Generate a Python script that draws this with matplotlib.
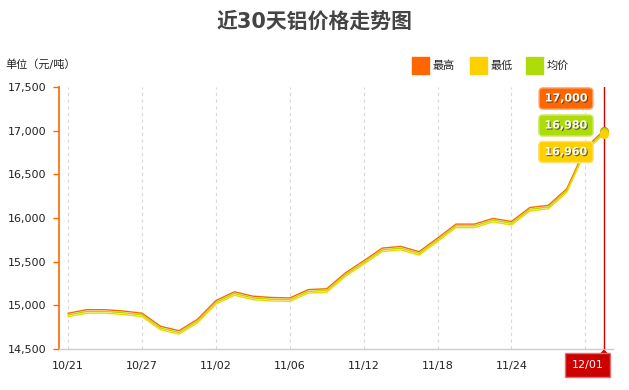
import matplotlib
matplotlib.use("Agg")
import matplotlib.pyplot as plt
import matplotlib.patheffects as pe
from matplotlib.patches import Polygon

plt.rcParams['font.family'] = ['DejaVu Sans', 'Noto Sans CJK SC']

dates = ["10/21", "10/22", "10/23", "10/24", "10/27", "10/28", "10/29", "10/30",
         "11/02", "11/03", "11/04", "11/05", "11/06", "11/09", "11/10", "11/11",
         "11/12", "11/13", "11/16", "11/17", "11/18", "11/19", "11/20", "11/23",
         "11/24", "11/25", "11/26", "11/27", "11/30", "12/01"]
high = [14910, 14950, 14950, 14935, 14910, 14760, 14710, 14840, 15055, 15155,
        15105, 15090, 15085, 15180, 15190, 15370, 15510, 15655, 15675, 15615,
        15770, 15930, 15930, 15995, 15960, 16120, 16145, 16335, 16800, 17000]
avg = [14890, 14930, 14930, 14915, 14890, 14740, 14690, 14820, 15035, 15135,
       15085, 15070, 15065, 15160, 15170, 15350, 15490, 15635, 15655, 15595,
       15750, 15910, 15910, 15975, 15940, 16100, 16125, 16315, 16780, 16980]
low = [14870, 14910, 14910, 14895, 14870, 14720, 14670, 14800, 15015, 15115,
       15065, 15050, 15045, 15140, 15150, 15330, 15470, 15615, 15635, 15575,
       15730, 15890, 15890, 15955, 15920, 16080, 16105, 16295, 16760, 16960]
yticks = [14500, 15000, 15500, 16000, 16500, 17000, 17500]
series_names = ["最高", "最低", "均价"]

C_HIGH = "#FF6600"
C_LOW = "#FFD000"
C_AVG = "#AEDC0A"

W, H = 629, 390
fig = plt.figure(figsize=(W / 100, H / 100), dpi=100)
ax = fig.add_axes([59 / W, 1 - 349 / H, (613 - 59) / W, (349 - 87) / H])

x = list(range(len(dates)))
ax.plot(x, high, color=C_HIGH, lw=1.0, zorder=3)
ax.plot(x, avg, color=C_AVG, lw=1.0, zorder=3)
ax.plot(x, low, color=C_LOW, lw=1.0, zorder=3)
last = len(dates) - 1
ax.plot([last], [high[-1]], 'o', color=C_HIGH, ms=5.5, zorder=5)
ax.plot([last], [avg[-1]], 'o', color=C_AVG, ms=5.5, zorder=5)
ax.plot([last], [low[-1]], 'o', color=C_LOW, ms=5.5, zorder=5)

ax.set_xlim(-0.5, len(dates) - 0.5)
ax.set_ylim(14500, 17500)
ax.set_yticks(yticks)
ax.set_yticklabels([f"{v:,}" for v in yticks])

tick_idx = list(range(0, len(dates), 4))
ax.set_xticks(tick_idx)
labels = [dates[i] for i in tick_idx]
labels[-1] = ""
ax.set_xticklabels(labels)

for i in tick_idx:
    ax.axvline(i, color="#d9d9d9", lw=0.8, ls=(0, (3, 3)), zorder=1)

for s in ["top", "right"]:
    ax.spines[s].set_visible(False)
ax.spines["left"].set_color(C_HIGH)
ax.spines["left"].set_linewidth(1.2)
ax.spines["bottom"].set_color("#cccccc")
ax.spines["bottom"].set_linewidth(1.0)

ax.tick_params(axis="y", colors=C_HIGH, length=4.5, width=1, pad=4.5,
               labelsize=8, labelcolor="#222222")
ax.tick_params(axis="x", length=0, pad=8.5, labelsize=8, labelcolor="#222222")

# crosshair
ax.axvline(last, color="#CC0000", lw=1.0, zorder=4)

# title and unit
fig.text(315 / W, 1 - 22 / H, "近30天铝价格走势图", ha="center", va="center",
         fontsize=15, fontweight="bold", color="#444444")
fig.text(5 / W, 1 - 64 / H, "单位（元/吨）", ha="left", va="center",
         fontsize=8, color="#222222")

# legend
leg = [(412, C_HIGH, series_names[0]), (470, C_LOW, series_names[1]),
       (526, C_AVG, series_names[2])]
for px, col, name in leg:
    fig.patches.append(plt.Rectangle((px / W, 1 - 74 / H), 17 / W, 17 / H,
                                     transform=fig.transFigure, color=col))
    fig.text((px + 21) / W, 1 - 65.5 / H, name, ha="left", va="center",
             fontsize=8, color="#222222")

# tooltips
shadow = [pe.SimplePatchShadow(offset=(0.8, -0.8), shadow_rgbFace="#333333", alpha=0.7),
          pe.Normal()]
tips = [(98.5, f"{high[-1]:,}", C_HIGH, "#FFA060"),
        (125.5, f"{avg[-1]:,}", C_AVG, "#CDEB6A"),
        (152, f"{low[-1]:,}", C_LOW, "#FFE370")]
for py, txt, col, edge in tips:
    t = fig.text(566 / W, 1 - py / H, txt, ha="center", va="center",
                 fontsize=8, fontweight="bold", color="white",
                 bbox=dict(boxstyle="round,pad=0.5,rounding_size=0.35",
                           fc=col, ec=edge, lw=1))
    t.set_path_effects(shadow)

# bottom date label
fig.text(587.5 / W, 1 - 365 / H, dates[-1], ha="center", va="center",
         fontsize=8, color="white",
         bbox=dict(boxstyle="square,pad=0.62", fc="#CC0000", ec="#E07070", lw=1))
tri = Polygon([(599.5 / W, 1 - 354 / H), (608.5 / W, 1 - 354 / H),
               (604 / W, 1 - 349.5 / H)], closed=True,
              transform=fig.transFigure, fc="#CC0000", ec="none")
fig.patches.append(tri)

fig.savefig("out.png", dpi=100)
